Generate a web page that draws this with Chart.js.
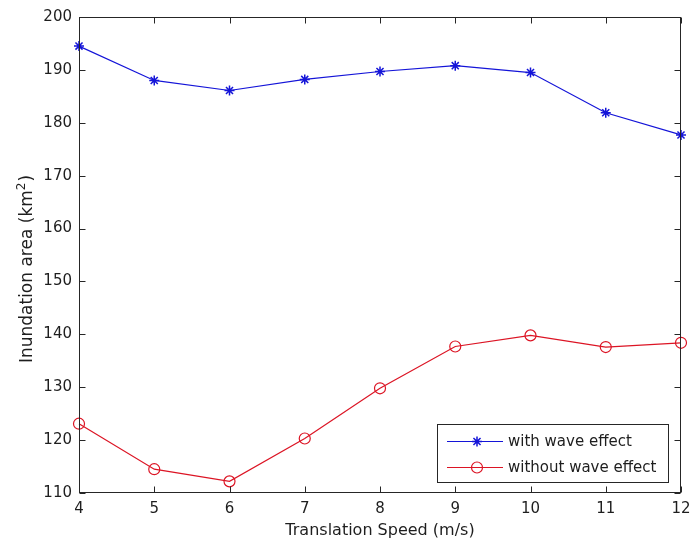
<!DOCTYPE html>
<html>
<head>
<meta charset="utf-8">
<script src="https://cdn.jsdelivr.net/npm/chart.js@4/dist/chart.umd.min.js"></script>
<style>
  html, body { margin: 0; padding: 0; background: #fff; }
  #wrap { width: 691px; height: 548px; }
</style>
</head>
<body>
<div id="wrap"><canvas id="c" width="691" height="548"></canvas></div>
<script>
// Translation speed (m/s)
const speeds = [4, 5, 6, 7, 8, 9, 10, 11, 12];
// Inundation area (km²)
const withWave    = [194.5, 188.0, 186.1, 188.2, 189.7, 190.8, 189.5, 181.9, 177.7];
const withoutWave = [123.1, 114.5, 112.2, 120.3, 129.8, 137.7, 139.8, 137.6, 138.4];
// Axis ticks
const xTicks = [4, 5, 6, 7, 8, 9, 10, 11, 12];
const yTicks = [110, 120, 130, 140, 150, 160, 170, 180, 190, 200];

const seriesNames = ['with wave effect', 'without wave effect'];
const FONT = 'DejaVu Sans, Arial, sans-serif';
const AXIS_COLOR = '#262626';
const TEXT_COLOR = '#1e1e1e';
const BLUE = '#1414d8';
const RED = '#dc1424';

const toPoints = ys => speeds.map((x, i) => ({ x, y: ys[i] }));

// Inward tick marks on all four sides plus the box outline
const boxAxes = {
  id: 'boxAxes',
  afterDatasetsDraw(chart) {
    const { ctx, chartArea: a, scales: { x, y } } = chart;
    const L = 6;
    const l = Math.round(a.left) + 0.5, r = Math.round(a.right) - 0.5;
    const t = Math.round(a.top) + 0.5, b = Math.round(a.bottom) - 0.5;
    ctx.save();
    ctx.strokeStyle = AXIS_COLOR;
    ctx.lineWidth = 1;
    ctx.beginPath();
    xTicks.forEach(v => {
      const px = Math.round(x.getPixelForValue(v)) + 0.5;
      ctx.moveTo(px, b); ctx.lineTo(px, b - L);
      ctx.moveTo(px, t); ctx.lineTo(px, t + L);
    });
    yTicks.forEach(v => {
      const py = Math.round(y.getPixelForValue(v)) + 0.5;
      ctx.moveTo(l, py); ctx.lineTo(l + L, py);
      ctx.moveTo(r, py); ctx.lineTo(r - L, py);
    });
    ctx.stroke();
    ctx.strokeRect(l, t, r - l, b - t);
    ctx.restore();
  }
};

// Vertical axis title with a raised "2" in km²
const yAxisTitle = {
  id: 'yAxisTitle',
  afterDraw(chart) {
    const { ctx, chartArea: a } = chart;
    const main = 'Inundation area (km';
    const sup = '2';
    const tail = ')';
    ctx.save();
    ctx.fillStyle = TEXT_COLOR;
    ctx.textBaseline = 'alphabetic';
    ctx.textAlign = 'left';
    const big = '17px ' + FONT, small = '12px ' + FONT;
    ctx.font = big;
    const w1 = ctx.measureText(main).width, w3 = ctx.measureText(tail).width;
    ctx.font = small;
    const w2 = ctx.measureText(sup).width + 1;
    const total = w1 + w2 + w3;
    const cy = (a.top + a.bottom) / 2 + 14;
    ctx.translate(32, cy);
    ctx.rotate(-Math.PI / 2);
    let xx = -total / 2;
    ctx.font = big;
    ctx.fillText(main, xx, 0);
    xx += w1;
    ctx.font = small;
    ctx.fillText(sup, xx, -7);
    xx += w2;
    ctx.font = big;
    ctx.fillText(tail, xx, 0);
    ctx.restore();
  }
};

// Boxed legend in the lower right corner, line sample with marker
const boxLegend = {
  id: 'boxLegend',
  afterDraw(chart) {
    const { ctx, chartArea: a } = chart;
    const w = 231, h = 58;
    const right = Math.round(a.right) - 13, bottom = Math.round(a.bottom) - 11;
    const left = right - w, top = bottom - h;
    ctx.save();
    ctx.fillStyle = '#fff';
    ctx.fillRect(left, top, w, h);
    ctx.strokeStyle = AXIS_COLOR;
    ctx.lineWidth = 1;
    ctx.strokeRect(left + 0.5, top + 0.5, w, h);
    ctx.font = '15px ' + FONT;
    ctx.textBaseline = 'middle';
    ctx.textAlign = 'left';
    chart.data.datasets.forEach((ds, i) => {
      const cy = top + 17 + i * 26;
      const x0 = left + 10, x1 = left + 66, mx = left + 40;
      ctx.strokeStyle = ds.borderColor;
      ctx.lineWidth = ds.borderWidth;
      ctx.beginPath();
      ctx.moveTo(x0, cy + 0.5); ctx.lineTo(x1, cy + 0.5);
      ctx.stroke();
      ctx.strokeStyle = ds.pointBorderColor;
      ctx.fillStyle = ds.pointBackgroundColor;
      ctx.lineWidth = ds.pointBorderWidth;
      Chart.helpers.drawPoint(ctx, {
        pointStyle: ds.pointStyle,
        radius: ds.pointRadius,
        borderWidth: ds.pointBorderWidth,
        rotation: 0
      }, mx, cy + 0.5);
      ctx.fillStyle = TEXT_COLOR;
      ctx.fillText(ds.label, left + 71, cy + 1);
    });
    ctx.restore();
  }
};

new Chart(document.getElementById('c'), {
  type: 'line',
  data: {
    datasets: [
      {
        label: seriesNames[0],
        data: toPoints(withWave),
        borderColor: BLUE,
        backgroundColor: BLUE,
        borderWidth: 1.2,
        pointStyle: 'star',
        pointRadius: 5,
        pointBorderWidth: 1.5,
        pointBorderColor: BLUE,
        pointBackgroundColor: BLUE,
        tension: 0,
        clip: false
      },
      {
        label: seriesNames[1],
        data: toPoints(withoutWave),
        borderColor: RED,
        backgroundColor: 'rgba(0,0,0,0)',
        borderWidth: 1.2,
        pointStyle: 'circle',
        pointRadius: 5.5,
        pointBorderWidth: 1.2,
        pointBorderColor: RED,
        pointBackgroundColor: 'rgba(0,0,0,0)',
        tension: 0,
        clip: false
      }
    ]
  },
  options: {
    responsive: false,
    devicePixelRatio: 1,
    animation: false,
    layout: { padding: { left: 0, top: 17, right: 10, bottom: 0 } },
    plugins: {
      legend: { display: false },
      tooltip: { enabled: false }
    },
    scales: {
      x: {
        type: 'linear',
        min: 4, max: 12,
        afterFit: s => { s.height = 55; s.paddingLeft = 0; s.paddingRight = 0; },
        afterBuildTicks: s => { s.ticks = xTicks.map(v => ({ value: v })); },
        ticks: { color: TEXT_COLOR, padding: 7, font: { family: FONT, size: 15 } },
        grid: { display: false, drawTicks: false },
        border: { display: false },
        title: {
          display: true,
          text: 'Translation Speed (m/s)',
          color: TEXT_COLOR,
          font: { family: FONT, size: 16 },
          padding: { top: 0, bottom: 8 }
        }
      },
      y: {
        type: 'linear',
        min: 110, max: 200,
        afterFit: s => { s.width = 79; s.paddingTop = 0; s.paddingBottom = 0; },
        afterBuildTicks: s => { s.ticks = yTicks.map(v => ({ value: v })); },
        ticks: { color: TEXT_COLOR, padding: 7, font: { family: FONT, size: 15 } },
        grid: { display: false, drawTicks: false },
        border: { display: false },
        title: { display: false }
      }
    }
  },
  plugins: [boxAxes, boxLegend, yAxisTitle]
});
</script>
</body>
</html>
